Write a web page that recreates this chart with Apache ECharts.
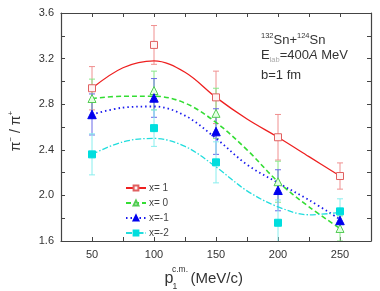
<!DOCTYPE html>
<html><head><meta charset="utf-8">
<script src="https://cdn.jsdelivr.net/npm/echarts@6/dist/echarts.min.js"></script>
<style>html,body{margin:0;padding:0;background:#fff}#c{width:380px;height:291px}</style>
</head><body><div id="c"></div>
<script>
const momenta = [50, 100, 150, 200, 250];
const curveX = [50, 75, 100, 125, 150, 175, 200, 225, 250];
const seriesNames = ['x= 1', 'x= 0', 'x=-1', 'x=-2'];
const ratioX1 = [2.94, 3.32, 2.86, 2.51, 2.17];
const errX1 = [0.19, 0.17, 0.23, 0.20, 0.115];
const ratioX0 = [2.85, 2.92, 2.72, 2.12, 1.71];
const errX0 = [0.17, 0.17, 0.22, 0.18, 0.11];
const ratioXm1 = [2.71, 2.855, 2.56, 2.045, 1.78];
const errXm1 = [0.18, 0.17, 0.20, 0.18, 0.10];
const ratioXm2 = [2.36, 2.59, 2.29, 1.76, 1.86];
const errXm2 = [0.18, 0.16, 0.18, 0.20, 0.11];
const fitX1 = [2.94, 3.12, 3.18, 3.08, 2.86, 2.67, 2.51, 2.34, 2.17];
const fitX0 = [2.85, 2.87, 2.87, 2.81, 2.64, 2.40, 2.12, 1.90, 1.71];
const fitXm1 = [2.71, 2.77, 2.78, 2.70, 2.50, 2.27, 2.11, 1.96, 1.79];
const fitXm2 = [2.36, 2.47, 2.50, 2.43, 2.25, 2.04, 1.90, 1.83, 1.85];
const xTicks = [50, 100, 150, 200, 250];
const yTicks = [1.6, 2.0, 2.4, 2.8, 3.2, 3.6];

const styles = [
  {line: '#ee2020', type: 'solid', width: 1.3, err: '#f09090', symbol: 'rect', size: 7, fill: '#fff4f4', stroke: '#e06060'},
  {line: '#33dd33', type: [5, 3], width: 1.6, err: '#88e888', symbol: 'triangle', size: 8, fill: '#e4ffe4', stroke: '#55cc55'},
  {line: '#1a1aee', type: [1.5, 3], width: 1.8, err: '#6a6ae8', symbol: 'triangle', size: 8.5, fill: '#0000ee', stroke: '#0000ee'},
  {line: '#22dddd', type: [6, 2, 1.5, 2], width: 1.3, err: '#88eeee', symbol: 'rect', size: 7, fill: '#00dede', stroke: '#00dede'}
];
const points = [ratioX1, ratioX0, ratioXm1, ratioXm2];
const errs = [errX1, errX0, errXm1, errXm2];
const fits = [fitX1, fitX0, fitXm1, fitXm2];

const series = [];
seriesNames.forEach((name, k) => {
  const s = styles[k];
  series.push({
    type: 'custom', silent: true, clip: true, z: 2,
    encode: {x: 0, y: 1},
    data: momenta.map((m, i) => [m, points[k][i], errs[k][i]]),
    renderItem: (params, api) => {
      const x = api.value(0), y = api.value(1), e = api.value(2);
      const t = api.coord([x, y + e]), b = api.coord([x, y - e]);
      const w = 3;
      const st = {stroke: s.err, lineWidth: 1};
      return {type: 'group', children: [
        {type: 'line', shape: {x1: t[0], y1: t[1], x2: b[0], y2: b[1]}, style: st},
        {type: 'line', shape: {x1: t[0] - w, y1: t[1], x2: t[0] + w, y2: t[1]}, style: st},
        {type: 'line', shape: {x1: b[0] - w, y1: b[1], x2: b[0] + w, y2: b[1]}, style: st}
      ]};
    }
  });
  series.push({
    name: name, type: 'line', smooth: 0.35, showSymbol: false, z: 3,
    symbol: s.symbol, symbolSize: s.size,
    itemStyle: {color: s.fill, borderColor: s.stroke, borderWidth: 1},
    lineStyle: {color: s.line, type: s.type, width: s.width},
    data: curveX.map((x, i) => [x, fits[k][i]])
  });
  series.push({
    type: 'scatter', silent: true, z: 4,
    symbol: s.symbol, symbolSize: s.size,
    itemStyle: {color: s.fill, borderColor: s.stroke, borderWidth: 1, opacity: 1},
    data: momenta.map((m, i) => [m, points[k][i]])
  });
});

const axisColor = '#444';
const chart = echarts.init(document.getElementById('c'));
chart.setOption({
  animation: false,
  grid: {left: 61, right: 9, top: 13, bottom: 50},
  xAxis: [
    {type: 'value', min: 25, max: 275, interval: 25, position: 'bottom',
     axisLine: {lineStyle: {color: axisColor, width: 1.2}},
     axisTick: {inside: true, length: 4, lineStyle: {color: axisColor}},
     splitLine: {show: false},
     axisLabel: {color: '#333', fontSize: 11, fontFamily: 'Liberation Sans', margin: 8,
       formatter: v => xTicks.includes(v) ? String(v) : ''}},
    {type: 'value', min: 25, max: 275, interval: 25, position: 'top',
     axisLine: {lineStyle: {color: axisColor, width: 1.2}},
     axisTick: {inside: true, length: 4, lineStyle: {color: axisColor}},
     splitLine: {show: false}, axisLabel: {show: false}}
  ],
  yAxis: [
    {type: 'value', min: 1.6, max: 3.6, interval: 0.2, position: 'left',
     axisLine: {show: true, lineStyle: {color: axisColor, width: 1.2}},
     axisTick: {show: true, inside: true, length: 4, lineStyle: {color: axisColor}},
     splitLine: {show: false},
     axisLabel: {color: '#333', fontSize: 11, fontFamily: 'Liberation Sans', margin: 7,
       formatter: v => {const r = Math.round(v * 10) / 10; return yTicks.some(t => Math.abs(t - r) < 1e-6) ? r.toFixed(1) : '';}}},
    {type: 'value', min: 1.6, max: 3.6, interval: 0.2, position: 'right',
     axisLine: {show: true, lineStyle: {color: axisColor, width: 1.2}},
     axisTick: {show: true, inside: true, length: 4, lineStyle: {color: axisColor}},
     splitLine: {show: false}, axisLabel: {show: false}}
  ],
  legend: {
    data: seriesNames, orient: 'vertical', left: 120, top: 178,
    itemWidth: 20, itemHeight: 6, itemGap: 5,
    textStyle: {color: '#444', fontSize: 10, fontFamily: 'Liberation Sans', padding: [0, 0, 0, -2]},
    selectedMode: false
  },
  graphic: [
    {type: 'text', left: 261, top: 32, style: {
      text: '{sup|132}{n|Sn+}{sup|124}{n|Sn}',
      rich: {
        n: {fontSize: 13, fontFamily: 'Liberation Sans', fill: '#333', lineHeight: 16},
        sup: {fontSize: 7.5, fontFamily: 'Liberation Sans', fill: '#333', lineHeight: 8, verticalAlign: 'top'}
      }}},
    {type: 'text', left: 261, top: 49, style: {
      text: '{n|E}{sub|lab}{n|=400}{i|A}{n| MeV}',
      rich: {
        n: {fontSize: 13, fontFamily: 'Liberation Sans', fill: '#333', lineHeight: 16},
        i: {fontSize: 13, fontFamily: 'Liberation Sans', fontStyle: 'italic', fill: '#333', lineHeight: 16},
        sub: {fontSize: 7.5, fontFamily: 'Liberation Sans', fill: '#aaa', lineHeight: 8, verticalAlign: 'bottom'}
      }}},
    {type: 'text', left: 261, top: 69, style: {
      text: 'b=1 fm', font: '13px "Liberation Sans"', fill: '#333'}},
    {type: 'text', x: 16, y: 131, rotation: Math.PI / 2, style: {
      text: '{n|π}{sup|−}{n| / π}{sup|+}', align: 'center', verticalAlign: 'middle',
      rich: {
        n: {fontSize: 14, fontFamily: 'Liberation Sans', fill: '#333', lineHeight: 18},
        sup: {fontSize: 8, fontFamily: 'Liberation Sans', fill: '#333', lineHeight: 9, verticalAlign: 'top'}
      }}},
    {type: 'text', x: 164.5, y: 279, style: {text: 'p', font: '16px "Liberation Sans"', fill: '#333', verticalAlign: 'middle'}},
    {type: 'text', x: 172, y: 269.5, style: {text: 'c.m.', font: '8.5px "Liberation Sans"', fill: '#333', verticalAlign: 'middle'}},
    {type: 'text', x: 172.5, y: 286.5, style: {text: '1', font: '8.5px "Liberation Sans"', fill: '#333', verticalAlign: 'middle'}},
    {type: 'text', x: 190.5, y: 279, style: {text: '(MeV/c)', font: '15px "Liberation Sans"', fill: '#333', verticalAlign: 'middle'}}
  ],
  series: series
});
</script></body></html>
